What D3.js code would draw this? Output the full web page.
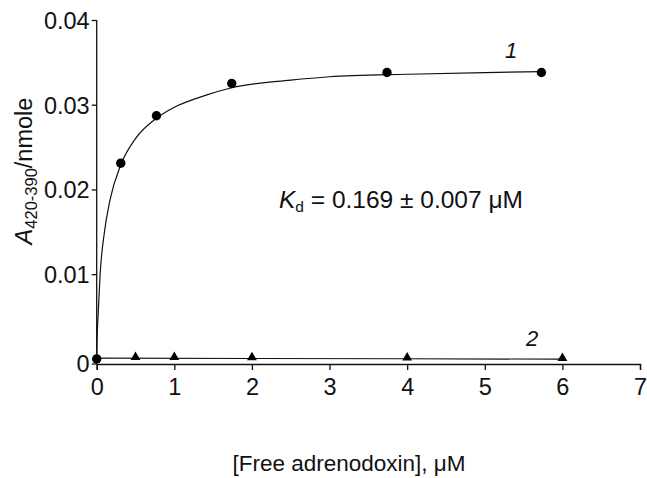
<!DOCTYPE html>
<html><head><meta charset="utf-8">
<script src="https://cdn.jsdelivr.net/npm/d3@7"></script>
<style>body{margin:0;background:#fff}svg{display:block}text{font-family:Arial,"Liberation Sans",Helvetica,sans-serif;fill:#111}</style>
</head><body>
<script>
// Series 1: measured points (circles)
const s1X = [0, 0.31, 0.77, 1.74, 3.74, 5.73];
const s1Y = [0.0000, 0.0231, 0.0287, 0.0325, 0.0338, 0.0338];
// Series 1: fitted curve
const fitX = [0, 0.005, 0.02, 0.043, 0.1, 0.17, 0.31, 0.5, 0.77, 1.0, 1.4, 1.74, 2.5, 3.0, 4.0, 5.0, 5.73];
const fitY = [0.0000, 0.0022, 0.0055, 0.0098, 0.0150, 0.0187, 0.0229, 0.0260, 0.0284, 0.0297, 0.0311, 0.0320, 0.0329, 0.0333, 0.0336, 0.0338, 0.0339];
// Series 2: measured points (triangles)
const s2X = [0.5, 1, 2, 4, 6];
const s2Y = [0.0001, 0.0001, 0.00005, 0.00002, -0.00003];
// Series 2: line
const line2X = [0, 2, 4, 6];
const line2Y = [0.0001, 0.00005, 0.00002, -0.00003];
// Axis ticks
const xTicks = [0, 1, 2, 3, 4, 5, 6, 7];
const yTicks = [0, 0.01, 0.02, 0.03, 0.04];
const yTickLabels = ["0", "0.01", "0.02", "0.03", "0.04"];

const W = 647, H = 478;
const svg = d3.select("body").append("svg").attr("width", W).attr("height", H);
const x = d3.scaleLinear().domain([0, 7]).range([96.7, 640]);
const y = d3.scaleLinear().domain([-0.0006, 0.04]).range([364, 20]);
const FS = 23.5;

// axes
const xAxis = d3.axisBottom(x).tickValues(xTicks).tickFormat(d3.format("d")).tickSizeOuter(0).tickSize(6).tickPadding(4);
const gx = svg.append("g").attr("transform", "translate(0,364)").call(xAxis);
const yAxis = d3.axisLeft(y).tickValues(yTicks).tickFormat((d, i) => yTickLabels[i]).tickSizeOuter(0).tickSize(5).tickPadding(2);
const gy = svg.append("g").attr("transform", "translate(96.7,0)").call(yAxis);
// bottom tick (0) sits at the axis crossing
gy.selectAll(".tick").filter(d => d === 0).attr("transform", "translate(0,364)");
gy.select(".domain").attr("d", "M0," + y(0.04) + "V364");
[gx, gy].forEach(g => {
  g.selectAll("path,line").attr("stroke", "#111").attr("stroke-width", 1.3);
  g.selectAll("text").attr("font-size", FS).attr("font-family", "Arial,'Liberation Sans',sans-serif").attr("fill", "#111");
});
gx.selectAll("text").attr("dy", "0.9em");
gy.selectAll("text").attr("dy", "0.36em");

// fit curve 1
const fitData = fitX.map((v, i) => [v, fitY[i]]);
svg.append("path").datum(fitData)
  .attr("d", d3.line().x(d => x(d[0])).y(d => y(d[1])).curve(d3.curveMonotoneX))
  .attr("fill", "none").attr("stroke", "#111").attr("stroke-width", 1.2);
// line 2
const l2 = line2X.map((v, i) => [v, line2Y[i]]);
svg.append("path").datum(l2)
  .attr("d", d3.line().x(d => x(d[0])).y(d => y(d[1])))
  .attr("fill", "none").attr("stroke", "#111").attr("stroke-width", 1.2);

// triangles
const tri = d3.symbol().type(d3.symbolTriangle).size(42);
svg.selectAll(".tri").data(s2X.map((v, i) => [v, s2Y[i]])).enter().append("path")
  .attr("d", tri).attr("transform", d => `translate(${x(d[0])},${y(d[1]) - 1})`).attr("fill", "#000");
// circles
svg.selectAll(".pt").data(s1X.map((v, i) => [v, s1Y[i]])).enter().append("circle")
  .attr("cx", d => x(d[0])).attr("cy", d => y(d[1])).attr("r", 4.7).attr("fill", "#000");

// curve labels
svg.append("text").attr("x", 511).attr("y", 58).attr("font-size", 22).attr("font-style", "italic").attr("text-anchor", "middle").text("1");
svg.append("text").attr("x", 532).attr("y", 346).attr("font-size", 22).attr("font-style", "italic").attr("text-anchor", "middle").text("2");

// Kd annotation
const kd = svg.append("text").attr("x", 279).attr("y", 208).attr("font-size", 24.5);
kd.append("tspan").attr("font-style", "italic").text("K");
kd.append("tspan").attr("font-size", 15.5).attr("dy", 4).text("d");
kd.append("tspan").attr("dy", -4).text(" = 0.169 ± 0.007 μM");

// y label
const yl = svg.append("text").attr("transform", "translate(32,171) rotate(-90)").attr("text-anchor", "middle").attr("font-size", 23.5);
yl.append("tspan").attr("font-style", "italic").text("A");
yl.append("tspan").attr("font-size", 16.5).attr("dy", 5).text("420-390");
yl.append("tspan").attr("dy", -5).text("/nmole");

// x label
svg.append("text").attr("x", 349).attr("y", 471).attr("text-anchor", "middle").attr("font-size", 22.5).text("[Free adrenodoxin], μM");
</script>
</body></html>
